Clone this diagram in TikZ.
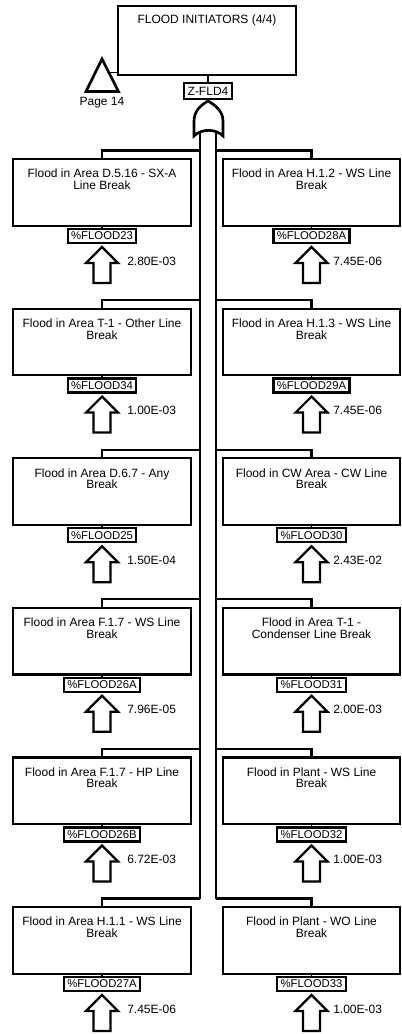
\documentclass[tikz,border=0pt]{standalone}
\usepackage{fontspec}
\setmainfont{Liberation Sans}
\usetikzlibrary{calc}
\tikzset{
  evbox/.style={draw, line width=1.7pt, inner sep=0pt, fill=white, anchor=north},
  topbox/.style={draw, line width=1.2pt, inner sep=0pt, fill=white, anchor=north},
  lbl/.style={draw, line width=1.7pt, inner xsep=2.6pt, inner ysep=0pt, minimum height=10.5pt, font=\fontsize{8.5}{8.5}\selectfont, fill=white},
  prob/.style={anchor=west, font=\fontsize{9}{9}\selectfont, inner sep=0pt},
  wire/.style={line width=1.6pt},
  thinwire/.style={line width=0.9pt},
  uparr/.pic={\draw[line width=1.7pt, fill=white, line join=miter] (0,0) -- (16,16) -- (8.5,16) -- (8.5,36) -- (-8.5,36) -- (-8.5,16) -- (-16,16) -- cycle;}
}
\newcommand\bxtext[1]{\begin{minipage}[t][49.9pt][t]{133pt}\centering\fontsize{9}{8.6}\selectfont\vspace*{7.6pt}#1\end{minipage}}
\newcommand\evrow[8]{%
  \node[evbox] (Lb#1) at (102,#2) {\bxtext{#3}};
  \node[lbl] (Ll#1) at (102,#2+78) {#4};
  \draw[thinwire] (Lb#1.south) -- (Ll#1.north);
  \pic at (102,#2+89) {uparr};
  \node[prob] (Lp#1) at (127,#2+103) {#5};
  \coordinate (cL#1) at (200,#2-7.5);
  \node[evbox] (Rb#1) at (311.5,#2) {\bxtext{#6}};
  \node[lbl] (Rl#1) at (311.5,#2+78) {#7};
  \draw[thinwire] (Rb#1.south) -- (Rl#1.north);
  \pic at (311.5,#2+89) {uparr};
  \node[prob] (Rp#1) at (333,#2+103) {#8};
  \coordinate (cR#1) at (216,#2-7.5);
  \draw[wire] (cL#1) -| (Lb#1.north);
  \draw[wire] (cR#1) -| (Rb#1.north);
}
\begin{document}
\begin{tikzpicture}[x=0.75pt,y=-0.75pt]
\useasboundingbox (0,0) rectangle (402,1034);
% top event
\node[topbox] (top) at (207,5) {\begin{minipage}[t][51.75pt][t]{133.5pt}\centering\fontsize{9}{9}\selectfont\vspace*{6.6pt}FLOOD INITIATORS (4/4)\end{minipage}};
% transfer triangle
\coordinate (tA) at (102,59);
\coordinate (tR) at (118.5,91.5);
\coordinate (tL) at (86,91.5);
\draw[line width=2pt, line join=miter] (tA) -- (tR) -- (tL) -- cycle;
\coordinate (tC) at ($(tA)!0.42!(tR)$);
\node[font=\fontsize{9}{9}\selectfont, inner sep=0pt] (pg) at (102,103) {Page 14};
\draw[thinwire] (tC) -- (tC -| top.west);
% gate label
\node[lbl, font=\fontsize{9}{9}\selectfont, minimum height=12pt, inner xsep=3pt] (zl) at (208,91) {Z-FLD4};
\draw[thinwire] (zl.north |- top.south) -- (zl.north);
% rows
\evrow{1}{158}{Flood in Area D.5.16 - SX-A\\Line Break}{\%FLOOD23}{2.80E-03}{Flood in Area H.1.2 - WS Line\\Break}{\%FLOOD28A}{7.45E-06}
\evrow{2}{307.6}{Flood in Area T-1 - Other Line\\Break}{\%FLOOD34}{1.00E-03}{Flood in Area H.1.3 - WS Line\\Break}{\%FLOOD29A}{7.45E-06}
\evrow{3}{457.2}{Flood in Area D.6.7 - Any\\Break}{\%FLOOD25}{1.50E-04}{Flood in CW Area - CW Line\\Break}{\%FLOOD30}{2.43E-02}
\evrow{4}{606.8}{Flood in Area F.1.7 - WS Line\\Break}{\%FLOOD26A}{7.96E-05}{Flood in Area T-1 -\\Condenser Line Break}{\%FLOOD31}{2.00E-03}
\evrow{5}{756.4}{Flood in Area F.1.7 - HP Line\\Break}{\%FLOOD26B}{6.72E-03}{Flood in Plant - WS Line\\Break}{\%FLOOD32}{1.00E-03}
\evrow{6}{906}{Flood in Area H.1.1 - WS Line\\Break}{\%FLOOD27A}{7.45E-06}{Flood in Plant - WO Line\\Break}{\%FLOOD33}{1.00E-03}
% channel
\coordinate (gL) at (200,128);
\coordinate (gR) at (216,128);
\draw[wire] (gL) -- (cL6);
\draw[wire] (gR) -- (cR6);
% OR gate
\coordinate (gtop) at (208,101);
\draw[line width=2pt, fill=white, line join=miter] (194,136) -- (194,121) .. controls (194,111) and (201,105) .. (gtop) .. controls (215,105) and (223,111) .. (223,121) -- (223,136) .. controls (216,128.5) and (201,128.5) .. cycle;
\draw[thinwire] (zl.south) -- (gtop);
\end{tikzpicture}
\end{document}
